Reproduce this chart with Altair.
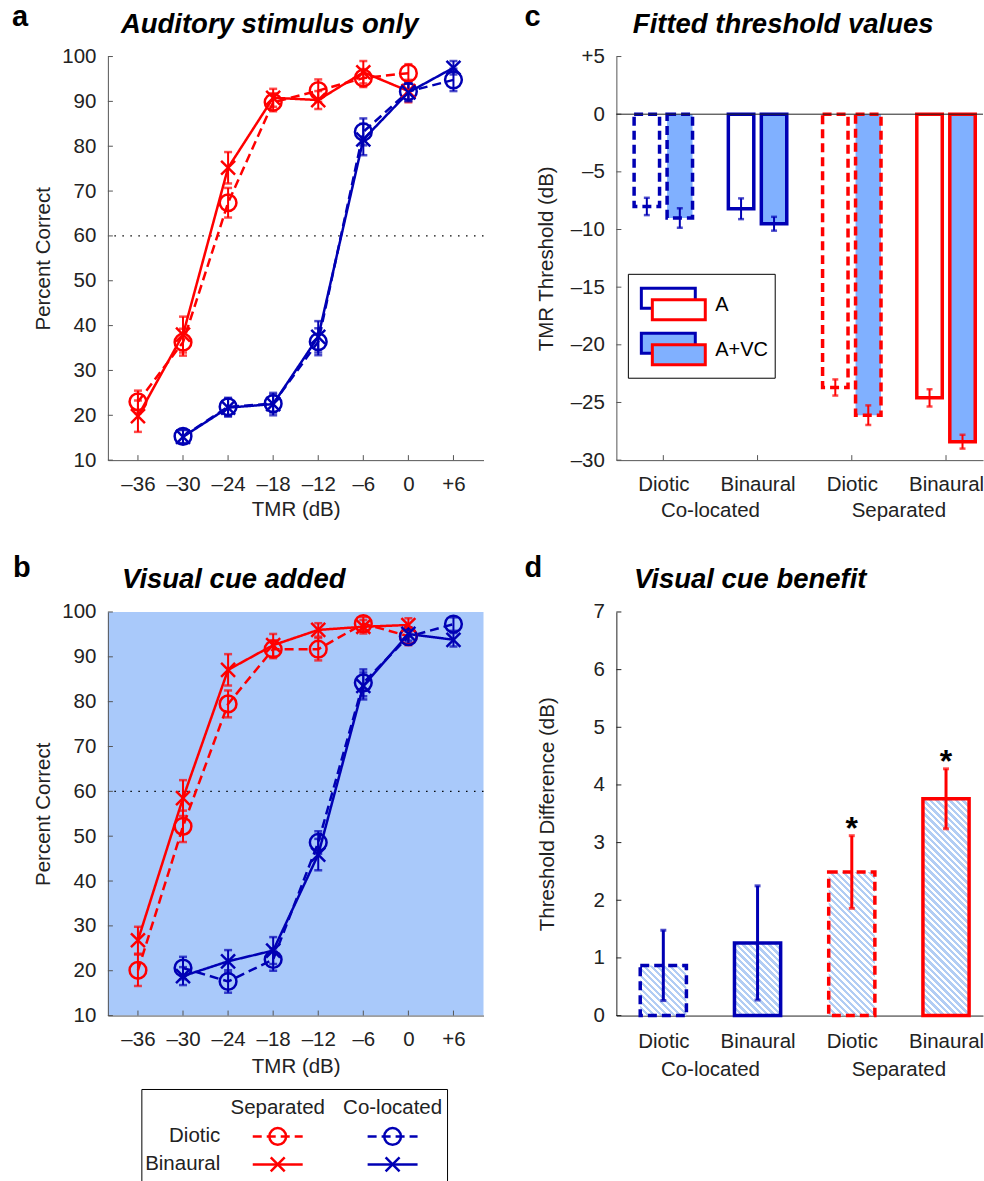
import altair as alt
import pandas as pd

FONT = "Liberation Sans"
RED = "#ff0000"
BLUE = "#0000b4"
AVC_FILL = "#80b0ff"
PANEL_B_BG = "#a9c9fa"
HATCH_LINE = "#b2cdf4"
GREY_AXIS = "#555555"
DARK_AXIS = "#222222"
TEXT = "#222222"
XPATH = "M-1,-1L1,1M-1,1L1,-1"
FS = 20.5

# ---------------- data ----------------
TMR = [-36, -30, -24, -18, -12, -6, 0, 6]
PC_TICKS = [10, 20, 30, 40, 50, 60, 70, 80, 90, 100]
LOCATIONS = ["Separated", "Co-located"]
MODES = ["Diotic", "Binaural"]
THRESHOLD = 60

# panel a : auditory only
A_SEP_DIOTIC = [23.0, 36.3, 67.4, 89.8, 92.4, 95.2, 96.3, None]
A_SEP_DIOTIC_ERR = [2.5, 3.0, 3.3, 2.0, 2.5, 2.0, 2.0, None]
A_SEP_BINAURAL = [19.8, 38.0, 75.2, 90.8, 90.3, 96.5, 92.3, None]
A_SEP_BINAURAL_ERR = [3.5, 4.0, 3.5, 2.0, 2.0, 2.5, 2.5, None]
A_COL_DIOTIC = [None, 15.3, 21.9, 22.6, 36.4, 83.2, 92.2, 94.8]
A_COL_DIOTIC_ERR = [None, 1.5, 2.0, 2.0, 3.0, 3.0, 2.0, 2.5]
A_COL_BINAURAL = [None, 15.2, 21.7, 22.5, 37.5, 81.5, 92.0, 97.5]
A_COL_BINAURAL_ERR = [None, 1.5, 2.0, 2.5, 3.5, 3.5, 2.0, 1.5]

# panel b : visual cue added
B_SEP_DIOTIC = [20.1, 52.2, 79.5, 91.7, 91.7, 97.4, 94.6, None]
B_SEP_DIOTIC_ERR = [3.5, 3.5, 3.0, 2.0, 2.5, 1.5, 2.0, None]
B_SEP_BINAURAL = [26.8, 58.5, 87.1, 92.6, 96.0, 96.7, 97.1, None]
B_SEP_BINAURAL_ERR = [3.0, 4.0, 3.5, 2.5, 1.5, 1.5, 1.5, None]
B_COL_DIOTIC = [None, 20.6, 17.6, 22.5, 48.6, 84.2, 94.5, 97.3]
B_COL_DIOTIC_ERR = [None, 2.5, 2.5, 2.5, 2.5, 3.0, 1.5, 1.5]
B_COL_BINAURAL = [None, 18.8, 22.1, 24.5, 45.9, 83.5, 95.1, 93.8]
B_COL_BINAURAL_ERR = [None, 2.0, 2.5, 3.0, 3.5, 3.0, 1.5, 1.5]

# panel c : fitted thresholds
C_GROUP_MODE = ["Diotic", "Binaural", "Diotic", "Binaural"]
C_GROUP_LOC = ["Co-located", "Co-located", "Separated", "Separated"]
GROUP_TICKS = [1, 2, 3, 4]
CONDITIONS = ["A", "A+VC"]
C_A = [-8.0, -8.2, -23.7, -24.6]
C_A_ERR = [0.75, 0.9, 0.7, 0.75]
C_AVC = [-9.0, -9.5, -26.1, -28.4]
C_AVC_ERR = [0.85, 0.6, 0.85, 0.6]
C_TICKS = [5, 0, -5, -10, -15, -20, -25, -30]

# panel d : visual cue benefit
D_BENEFIT = [0.87, 1.26, 2.49, 3.76]
D_ERR = [0.61, 0.99, 0.63, 0.52]
D_SIG = ["", "", "*", "*"]
D_TICKS = [0, 1, 2, 3, 4, 5, 6, 7]

SIGNED_EXPR = ("datum.value > 0 ? '+' + datum.value : "
               "(datum.value < 0 ? '\u2013' + abs(datum.value) : '0')")
GROUP_LABEL_EXPR = "[" + ",".join("'%s'" % m for m in C_GROUP_MODE) + "][datum.value - 1]"

W_LEFT, W_RIGHT, H = 376, 367, 404
TICK_LEN = 5


def axis(values, title, label_pad, domain_color, **kw):
    d = dict(values=values, domainColor=domain_color, domainWidth=1, ticks=False,
             tickSize=0, grid=False, labelFont=FONT, labelFontSize=FS, labelColor=TEXT,
             labelPadding=label_pad, labelFlush=False, labelOverlap=False,
             titleFont=FONT, titleFontSize=FS, titleFontWeight="normal", titleColor=TEXT,
             titleBaseline="middle")
    d.update(kw)
    return alt.Axis(title=title, **d)


def text_layer(txt, x, y, size, weight="normal", style="normal", align="left",
               baseline="alphabetic"):
    return alt.Chart(pd.DataFrame({"t": [txt]})).mark_text(
        font=FONT, fontSize=size, fontWeight=weight, fontStyle=style, align=align,
        baseline=baseline, color="black").encode(text="t:N", x=alt.value(x), y=alt.value(y))


def inward_ticks(X, Y, xticks, yticks, color):
    """MATLAB-style ticks pointing into the plot area."""
    xt = alt.Chart(pd.DataFrame({"v": xticks})).mark_rule(color=color, strokeWidth=1).encode(
        X("v"), y=alt.value(H), y2=alt.value(H - TICK_LEN))
    yt = alt.Chart(pd.DataFrame({"v": yticks})).mark_rule(color=color, strokeWidth=1).encode(
        Y("v"), x=alt.value(0), x2=alt.value(TICK_LEN))
    return [xt, yt]


color_enc = alt.Color("loc:N", scale=alt.Scale(domain=LOCATIONS, range=[RED, BLUE]), legend=None)
line_dash = alt.StrokeDash("mode:N", scale=alt.Scale(domain=MODES, range=[[9, 5], [1, 0]]), legend=None)
bar_dash = alt.StrokeDash("mode:N", scale=alt.Scale(domain=MODES, range=[[10, 5], [1, 0]]), legend=None)
one = pd.DataFrame({"a": [0]})


def long_df(series):
    rows = []
    for (loc, mode), (vals, errs) in series.items():
        for t, v, e in zip(TMR, vals, errs):
            if v is None:
                continue
            rows.append(dict(tmr=t, pc=v, lo=v - e, hi=v + e, loc=loc, mode=mode))
    return pd.DataFrame(rows)


def psy_layers(series, letter, letter_pos, title, title_cx, ytitle_x, xtitle_y, anchor=False):
    df = long_df(series)
    xs = alt.Scale(domain=[-40, 10], nice=False, zero=False)
    ys = alt.Scale(domain=[10, 100], nice=False, zero=False)
    xax = axis(TMR, "TMR (dB)", 14, GREY_AXIS, labelExpr=SIGNED_EXPR, titleY=xtitle_y)
    yax = axis(PC_TICKS, "Percent Correct", 12, GREY_AXIS, titleX=ytitle_x, titleY=H / 2)

    def X(f):
        return alt.X(f, type="quantitative", scale=xs, axis=xax)

    def Y(f):
        return alt.Y(f, type="quantitative", scale=ys, axis=yax)

    base = alt.Chart(df)
    layers = []
    if anchor:
        layers.append(alt.Chart(one).mark_rule(color="white", strokeWidth=1)
                      .encode(x=alt.value(-107.5), x2=alt.value(-100), y=alt.value(-55.5)))
    layers += inward_ticks(X, Y, TMR, PC_TICKS, GREY_AXIS)
    layers.append(alt.Chart(pd.DataFrame({"ref": [THRESHOLD]}))
                  .mark_rule(color="black", strokeWidth=1.3, strokeDash=[1.5, 6.5])
                  .encode(y=Y("ref")))
    layers.append(base.mark_line(strokeWidth=2.5).encode(X("tmr"), Y("pc"), color_enc, line_dash))
    layers.append(base.mark_rule(strokeWidth=2).encode(X("tmr"), Y("lo"), alt.Y2("hi"), color_enc))
    layers.append(base.mark_tick(orient="horizontal", size=8, thickness=2.5).encode(X("tmr"), Y("lo"), color_enc))
    layers.append(base.mark_tick(orient="horizontal", size=8, thickness=2.5).encode(X("tmr"), Y("hi"), color_enc))
    layers.append(base.transform_filter(alt.datum.mode == "Diotic")
                  .mark_point(shape="circle", size=280, filled=False, strokeWidth=2.5, opacity=1)
                  .encode(X("tmr"), Y("pc"), color_enc))
    layers.append(base.transform_filter(alt.datum.mode == "Binaural")
                  .mark_point(shape=XPATH, size=195, filled=False, strokeWidth=2.5, opacity=1)
                  .encode(X("tmr"), Y("pc"), color_enc))
    layers.append(text_layer(title, title_cx, -24, 27.5, "bold", "italic", "center"))
    layers.append(text_layer(letter, letter_pos[0], letter_pos[1], 29, "bold"))
    return layers


panel_a = alt.layer(*psy_layers(
    {("Separated", "Diotic"): (A_SEP_DIOTIC, A_SEP_DIOTIC_ERR),
     ("Separated", "Binaural"): (A_SEP_BINAURAL, A_SEP_BINAURAL_ERR),
     ("Co-located", "Diotic"): (A_COL_DIOTIC, A_COL_DIOTIC_ERR),
     ("Co-located", "Binaural"): (A_COL_BINAURAL, A_COL_BINAURAL_ERR)},
    "a", (-96, -31), "Auditory stimulus only", 162, -64, 49, anchor=True)
).properties(width=W_LEFT, height=H, view=alt.ViewBackground(strokeWidth=0))

b_main = alt.layer(*psy_layers(
    {("Separated", "Diotic"): (B_SEP_DIOTIC, B_SEP_DIOTIC_ERR),
     ("Separated", "Binaural"): (B_SEP_BINAURAL, B_SEP_BINAURAL_ERR),
     ("Co-located", "Diotic"): (B_COL_DIOTIC, B_COL_DIOTIC_ERR),
     ("Co-located", "Binaural"): (B_COL_BINAURAL, B_COL_BINAURAL_ERR)},
    "b", (-95, -35), "Visual cue added", 126, -64, 51))

# ---------------- line legend below panel b (own scales) ----------------
leg_rows = []
for loc in LOCATIONS:
    for mode in MODES:
        leg_rows.append(dict(lx=LOCATIONS.index(loc) + 1, ly=MODES.index(mode) + 1, loc=loc, mode=mode))
leg_df = pd.DataFrame(leg_rows)
head_df = pd.DataFrame({"lx": [1, 2], "ly": [0, 0], "t": LOCATIONS})
rowlab_df = pd.DataFrame({"lx": [0.5, 0.5], "ly": [1, 2], "t": MODES})
lxs = alt.Scale(domain=[-0.4783, 2.7913], nice=False, zero=False)
lys = alt.Scale(domain=[-17.75, -3.3214], reverse=True, nice=False, zero=False)
LX = alt.X("lx:Q", scale=lxs, axis=None)
LY = alt.Y("ly:Q", scale=lys, axis=None)
leg_base = alt.Chart(leg_df)
legend_layer = alt.layer(
    alt.Chart(one).mark_rect(fill="white", stroke="black", strokeWidth=1).encode(
        x=alt.value(34), x2=alt.value(340), y=alt.value(478), y2=alt.value(574)),
    alt.Chart(head_df).mark_text(font=FONT, fontSize=FS, color=TEXT, baseline="middle").encode(LX, LY, text="t:N"),
    alt.Chart(rowlab_df).mark_text(font=FONT, fontSize=FS, color=TEXT, baseline="middle", align="right").encode(LX, LY, text="t:N"),
    leg_base.mark_rule(strokeWidth=2.5, xOffset=-25, x2Offset=25).encode(LX, alt.X2("lx"), LY, color_enc, line_dash),
    leg_base.transform_filter(alt.datum.mode == "Diotic").mark_point(
        shape="circle", size=280, filled=False, strokeWidth=2.5, opacity=1).encode(LX, LY, color_enc),
    leg_base.transform_filter(alt.datum.mode == "Binaural").mark_point(
        shape=XPATH, size=195, filled=False, strokeWidth=2.5, opacity=1).encode(LX, LY, color_enc),
)

panel_b = alt.layer(b_main, legend_layer).resolve_scale(x="independent", y="independent").properties(
    width=W_LEFT, height=H, view=alt.ViewBackground(fill=PANEL_B_BG, strokeWidth=0))

# ---------------- panel c ----------------
c_rows = []
for i in range(4):
    for cond, vals, errs, off in (("A", C_A, C_A_ERR, -0.175), ("A+VC", C_AVC, C_AVC_ERR, 0.175)):
        c_rows.append(dict(pos=i + 1 + off, val=vals[i], lo=vals[i] - errs[i], hi=vals[i] + errs[i],
                           loc=C_GROUP_LOC[i], mode=C_GROUP_MODE[i], cond=cond))
c_df = pd.DataFrame(c_rows)
group_df = pd.DataFrame({"loc": ["Co-located", "Separated"]})
group_df["gpos"] = [sum(i + 1 for i in range(4) if C_GROUP_LOC[i] == g) / 2 for g in group_df["loc"]]

X_DOMAIN = [0.5018, 4.3924]
r_xs = alt.Scale(domain=X_DOMAIN, nice=False, zero=False)
c_ys = alt.Scale(domain=[-30, 5], nice=False, zero=False)
c_xax = axis(GROUP_TICKS, None, 14, GREY_AXIS, labelExpr=GROUP_LABEL_EXPR)
c_yax = axis(C_TICKS, "TMR Threshold (dB)", 12, GREY_AXIS, labelExpr=SIGNED_EXPR,
             titleX=-70, titleY=H / 2)


def cX(f):
    return alt.X(f, type="quantitative", scale=r_xs, axis=c_xax)


def cY(f):
    return alt.Y(f, type="quantitative", scale=c_ys, axis=c_yax)


c_base = alt.Chart(c_df).transform_calculate(x1="datum.pos - 0.135", x2="datum.pos + 0.135", base="0")
c_bars = c_base.mark_bar(strokeWidth=3.5, strokeJoin="miter", opacity=1).encode(
    cX("x1"), alt.X2("x2"), cY("val"), alt.Y2("base"),
    fill=alt.Fill("cond:N", scale=alt.Scale(domain=CONDITIONS, range=["white", AVC_FILL]), legend=None),
    stroke=alt.Stroke("loc:N", scale=alt.Scale(domain=LOCATIONS, range=[RED, BLUE]), legend=None),
    strokeDash=bar_dash)
c_zero = alt.Chart(pd.DataFrame({"z": [0]})).mark_rule(color="#222222", strokeWidth=1).encode(y=cY("z"))
c_err = c_base.mark_rule(strokeWidth=2).encode(cX("pos"), cY("lo"), alt.Y2("hi"), color_enc)
c_cap_lo = c_base.mark_tick(orient="horizontal", size=6, thickness=2.5).encode(cX("pos"), cY("lo"), color_enc)
c_cap_hi = c_base.mark_tick(orient="horizontal", size=6, thickness=2.5).encode(cX("pos"), cY("hi"), color_enc)
c_groups = alt.Chart(group_df).mark_text(font=FONT, fontSize=FS, color=TEXT, baseline="middle").encode(
    cX("gpos"), y=alt.value(H + 51), text="loc:N")

# legend inside panel c
c_leg = [alt.Chart(one).mark_rect(fill="white", stroke="black", strokeWidth=1).encode(
    x=alt.value(12), x2=alt.value(159), y=alt.value(218), y2=alt.value(322))]
for i, (cond, fill) in enumerate(zip(CONDITIONS, ["white", AVC_FILL])):
    yc = 242 + 45 * i
    c_leg.append(alt.Chart(one).mark_rect(fill=fill, stroke=BLUE, strokeWidth=3).encode(
        x=alt.value(25), x2=alt.value(79), y=alt.value(yc - 10), y2=alt.value(yc + 10)))
    c_leg.append(alt.Chart(one).mark_rect(fill=fill, stroke=RED, strokeWidth=3).encode(
        x=alt.value(36), x2=alt.value(89), y=alt.value(yc + 1.5), y2=alt.value(yc + 21.5)))
    c_leg.append(text_layer(cond, 99, yc + 7, 20, baseline="middle"))

panel_c = alt.layer(
    *inward_ticks(cX, cY, GROUP_TICKS, C_TICKS, GREY_AXIS),
    c_bars, c_zero, c_err, c_cap_lo, c_cap_hi, c_groups, *c_leg,
    text_layer("Fitted threshold values", 167, -24, 27.5, "bold", "italic", "center"),
    text_layer("c", -92, -31, 29, "bold"),
).properties(width=W_RIGHT, height=H, view=alt.ViewBackground(strokeWidth=0))

# ---------------- panel d ----------------
d_df = pd.DataFrame({"pos": GROUP_TICKS, "val": D_BENEFIT,
                     "lo": [v - e for v, e in zip(D_BENEFIT, D_ERR)],
                     "hi": [v + e for v, e in zip(D_BENEFIT, D_ERR)],
                     "loc": C_GROUP_LOC, "mode": C_GROUP_MODE, "sig": D_SIG})
D_DOMAIN = [0, 7]
D_HALF = 0.245
d_ys = alt.Scale(domain=D_DOMAIN, nice=False, zero=False)
d_xax = axis(GROUP_TICKS, None, 16, DARK_AXIS, labelExpr=GROUP_LABEL_EXPR)
d_yax = axis(D_TICKS, "Threshold Difference (dB)", 12, DARK_AXIS, titleX=-69, titleY=H / 2)


def dX(f):
    return alt.X(f, type="quantitative", scale=r_xs, axis=d_xax)


def dY(f):
    return alt.Y(f, type="quantitative", scale=d_ys, axis=d_yax)


def hatch_gradient(value, period=4.6):
    """Diagonal hatch (light blue / white stripes) as a hard-stop linear gradient."""
    w_px = 2 * D_HALF * W_RIGHT / (X_DOMAIN[1] - X_DOMAIN[0])
    h_px = value * H / (D_DOMAIN[1] - D_DOMAIN[0])
    r = h_px / w_px
    t_max = (1 + r) / (1 + r * r)
    dt = period * (2 ** 0.5) / ((1 + r * r) * w_px)
    stops = []
    t = 0.0
    while t < t_max + dt:
        a, b, c = t, t + dt / 2, t + dt
        stops += [dict(offset=min(a, 1), color=HATCH_LINE), dict(offset=min(b, 1), color=HATCH_LINE),
                  dict(offset=min(b, 1), color="white"), dict(offset=min(c, 1), color="white")]
        t = c
    return dict(gradient="linear", x1=0, y1=1, x2=1, y2=1 - r, stops=stops)


d_base = alt.Chart(d_df).transform_calculate(x1="datum.pos - %f" % D_HALF,
                                             x2="datum.pos + %f" % D_HALF, base="0")
d_bars = []
for i, v in enumerate(D_BENEFIT):
    d_bars.append(d_base.transform_filter(alt.datum.pos == GROUP_TICKS[i]).mark_bar(
        strokeWidth=3.5, strokeJoin="miter", fill=hatch_gradient(v), opacity=1).encode(
        dX("x1"), alt.X2("x2"), dY("val"), alt.Y2("base"),
        stroke=alt.Stroke("loc:N", scale=alt.Scale(domain=LOCATIONS, range=[RED, BLUE]), legend=None),
        strokeDash=bar_dash))
d_err = d_base.mark_rule(strokeWidth=3).encode(dX("pos"), dY("lo"), alt.Y2("hi"), color_enc)
d_cap_lo = d_base.mark_tick(orient="horizontal", size=6, thickness=3).encode(dX("pos"), dY("lo"), color_enc)
d_cap_hi = d_base.mark_tick(orient="horizontal", size=6, thickness=3).encode(dX("pos"), dY("hi"), color_enc)
d_stars = d_base.mark_text(font=FONT, fontSize=32, fontWeight="bold", color="black",
                           baseline="alphabetic", dy=3).encode(dX("pos"), dY("hi"), text="sig:N")
d_groups = alt.Chart(group_df).mark_text(font=FONT, fontSize=FS, color=TEXT, baseline="middle").encode(
    dX("gpos"), y=alt.value(H + 54), text="loc:N")

panel_d = alt.layer(
    *inward_ticks(dX, dY, GROUP_TICKS, D_TICKS, DARK_AXIS),
    *d_bars, d_err, d_cap_lo, d_cap_hi, d_stars, d_groups,
    text_layer("Visual cue benefit", 134, -24, 27.5, "bold", "italic", "center"),
    text_layer("d", -92, -35, 29, "bold"),
).properties(width=W_RIGHT, height=H, view=alt.ViewBackground(strokeWidth=0))

chart = alt.concat(
    panel_a, panel_c, panel_b, panel_d, columns=2,
    spacing={"row": 152, "column": 133}, bounds="flush",
).properties(padding=0).configure(font=FONT).configure_view(strokeWidth=0)

chart.save("out.html", embed_options={"renderer": "svg", "actions": False})
